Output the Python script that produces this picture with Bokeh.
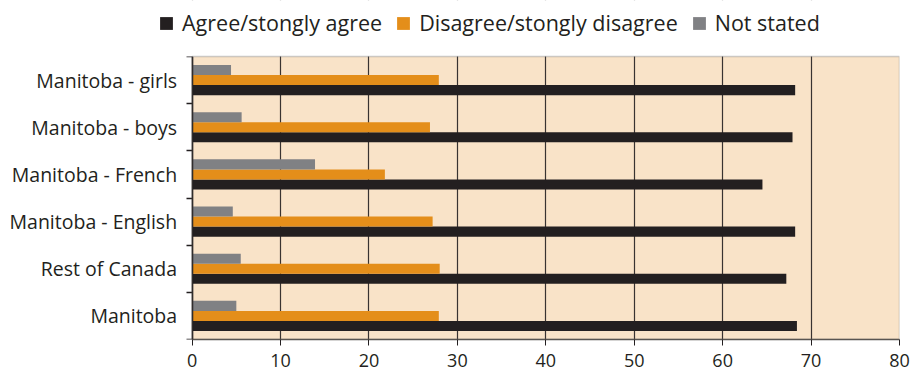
from bokeh.plotting import figure
from bokeh.models import FixedTicker, Legend, LegendItem, ColumnDataSource, Range1d, BoxAnnotation
from bokeh.core.properties import value
from bokeh.transform import dodge
from bokeh.embed import file_html
from bokeh.resources import INLINE

categories = ["Manitoba", "Rest of Canada", "Manitoba - English",
              "Manitoba - French", "Manitoba - boys", "Manitoba - girls"]
agree = [68.4, 67.2, 68.2, 64.5, 67.9, 68.2]
disagree = [27.9, 28.0, 27.2, 21.8, 26.9, 27.9]
not_stated = [5.0, 5.5, 4.6, 13.9, 5.6, 4.4]
series_names = ["Agree/stongly agree", "Disagree/stongly disagree", "Not stated"]
series_fields = ["agree", "disagree", "not_stated"]
series_colors = ["#231F20", "#E48E1A", "#808184"]
x_ticks = [0, 10, 20, 30, 40, 50, 60, 70, 80]
x_max = 80

n = len(categories)
centers = [i + 0.5 for i in range(n)]
source = ColumnDataSource(dict(y=centers, agree=agree, disagree=disagree,
                               not_stated=not_stated, cat=categories))

# Frame spans the whole canvas except thin borders; the value area (0..80, 0..n)
# is set inside it so the legend above and the labels on the left are not clipped.
p = figure(width=924, height=371, output_backend="svg", toolbar_location=None,
           x_range=Range1d(-20.54, 80.0), y_range=Range1d(0, n * 339 / 283),
           min_border_left=10, min_border_right=25, min_border_top=0,
           min_border_bottom=32)
p.background_fill_color = "white"
p.border_fill_color = "white"
p.outline_line_color = None

# peach plotting area
p.add_layout(BoxAnnotation(left=0, right=x_max, bottom=0, top=n, fill_color="#F9E3C8",
                           fill_alpha=1, line_color=None, level="image"))

bh = 0.213
renderers = []
for k, (f, c) in enumerate(zip(series_fields, series_colors)):
    r = p.hbar(y=dodge("y", (k - 1) * bh), left=0, right=f, height=bh,
               source=source, fill_color=c, line_color=None)
    renderers.append(r)

# category labels
p.text(x=0, y="y", text="cat", source=source, x_offset=-15, text_align="right",
       text_baseline="middle", text_font=value("Open Sans"), text_font_size="19.5px",
       text_color="#231F20")

# grid
p.ygrid.visible = False
p.xgrid.ticker = FixedTicker(ticks=x_ticks)
p.xgrid.grid_line_color = "#231F20"
p.xgrid.grid_line_width = 1.2
p.xgrid.grid_line_alpha = 0.9

# hide grid above the plotting area, then draw the frame border
p.add_layout(BoxAnnotation(bottom=n, top=3 * n, left=-100, right=200, fill_color="white",
                           fill_alpha=1, line_color=None, level="guide"))
p.add_layout(BoxAnnotation(left=0, right=x_max, bottom=0, top=n, fill_alpha=0,
                           line_color="#5a5552", line_width=1.5, level="guide"))

# x axis
p.xaxis.ticker = FixedTicker(ticks=x_ticks)
p.xaxis.bounds = (0, x_max)
p.xaxis.major_tick_out = 6
p.xaxis.major_tick_in = 0
p.xaxis.minor_tick_line_color = None
p.xaxis.axis_line_color = "#5a5552"
p.xaxis.axis_line_width = 1.5
p.xaxis.major_tick_line_color = "#231F20"
p.xaxis.major_label_text_font = "Open Sans"
p.xaxis.major_label_text_font_size = "18px"
p.xaxis.major_label_text_color = "#231F20"
p.xaxis.major_label_standoff = 8

# y axis at x = 0 with (minor) ticks at category boundaries, no labels
p.yaxis.fixed_location = 0
p.yaxis.bounds = (0, n)
p.yaxis.ticker = FixedTicker(ticks=[], minor_ticks=list(range(n + 1)))
p.yaxis.major_tick_line_color = None
p.yaxis.minor_tick_out = 6
p.yaxis.minor_tick_in = 0
p.yaxis.minor_tick_line_color = "#231F20"
p.yaxis.minor_tick_line_width = 1.5
p.yaxis.axis_line_color = "#231F20"
p.yaxis.axis_line_width = 1.5

legend = Legend(items=[LegendItem(label=nm, renderers=[r]) for nm, r in zip(series_names, renderers)],
                orientation="horizontal", location=(148, 302),
                glyph_width=16, glyph_height=16, label_standoff=8, spacing=13,
                label_text_font="Open Sans", label_text_font_size="21.5px",
                label_text_color="#231F20", border_line_color=None,
                background_fill_alpha=0, padding=0, margin=0)
p.add_layout(legend, "center")

open("out.html", "w").write(file_html(p, INLINE))
